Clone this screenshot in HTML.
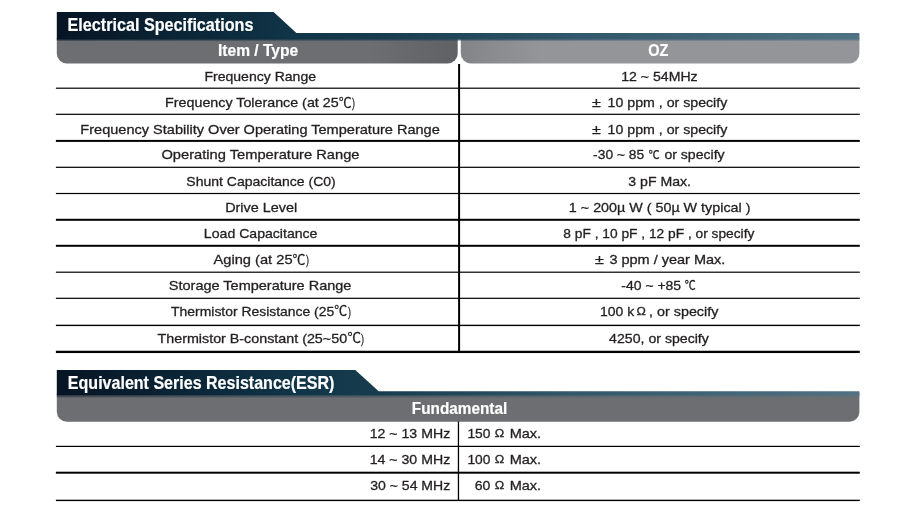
<!DOCTYPE html>
<html lang="en"><head><meta charset="utf-8"><title>Electrical Specifications</title>
<style>html,body{margin:0;padding:0;background:#fff}body{width:909px;height:513px;overflow:hidden}svg{display:block}text{font-family:'Liberation Sans', 'Noto Sans CJK JP', sans-serif;white-space:pre}</style>
</head><body>
<svg width="909" height="513" viewBox="0 0 909 513">
<defs>
<linearGradient id="tg" gradientUnits="userSpaceOnUse" x1="56" y1="0" x2="860" y2="0"><stop offset="0" stop-color="#061424"/><stop offset="0.2" stop-color="#0c2a3c"/><stop offset="0.3" stop-color="#113548"/><stop offset="0.4" stop-color="#163c4e"/><stop offset="0.65" stop-color="#33576b"/><stop offset="1" stop-color="#507282"/></linearGradient>
<linearGradient id="gl" gradientUnits="userSpaceOnUse" x1="370" y1="0" x2="458" y2="0"><stop offset="0" stop-color="#6d6e71"/><stop offset="1" stop-color="#606164"/></linearGradient>
<linearGradient id="gr" gradientUnits="userSpaceOnUse" x1="461" y1="0" x2="540" y2="0"><stop offset="0" stop-color="#828487"/><stop offset="1" stop-color="#939598"/></linearGradient>
<linearGradient id="gf" gradientUnits="userSpaceOnUse" x1="56" y1="0" x2="860" y2="0"><stop offset="0" stop-color="#737477"/><stop offset="1" stop-color="#67686b"/></linearGradient>
<linearGradient id="fd" x1="0" y1="0" x2="0" y2="1"><stop offset="0" stop-color="#fff" stop-opacity="0.75"/><stop offset="1" stop-color="#fff" stop-opacity="0"/></linearGradient>
<mask id="m2" maskUnits="userSpaceOnUse" x="0" y="390" width="909" height="12"><rect x="0" y="394.9" width="909" height="3.2" fill="url(#fd)"/></mask>
<mask id="m1" maskUnits="userSpaceOnUse" x="0" y="36" width="909" height="10"><rect x="0" y="39.7" width="909" height="1.6" fill="url(#fd)"/></mask>
</defs>
<rect width="909" height="513" fill="#fff"/>
<path d="M56.8 38H457.7V53.5A10 10 0 0 1 447.7 63.5H66.8A10 10 0 0 1 56.8 53.5Z" fill="url(#gl)"/>
<path d="M460.8 38H859.4V53.5A10 10 0 0 1 849.4 63.5H470.8A10 10 0 0 1 460.8 53.5Z" fill="url(#gr)"/>
<path d="M56.8 12.05H273.6L296.4 32.9H859.4V39.8H56.8Z" fill="url(#tg)"/>
<path d="M56.8 393H859.4V411.7A10 10 0 0 1 849.4 421.7H66.8A10 10 0 0 1 56.8 411.7Z" fill="#6d6e71"/>
<path d="M56.8 370.1H355.3L378.7 391.2H859.4V395.0H56.8Z" fill="url(#tg)"/>
<rect x="56.8" y="394.9" width="802.6" height="3.2" fill="url(#tg)" mask="url(#m2)"/>
<rect x="56.8" y="39.7" width="802.6" height="1.6" fill="url(#tg)" mask="url(#m1)"/>
<rect x="55.9" y="87.60" width="803.9" height="1.2" fill="#000"/>
<rect x="55.9" y="113.70" width="803.9" height="1.2" fill="#000"/>
<rect x="55.9" y="139.90" width="803.9" height="2.0" fill="#000"/>
<rect x="55.9" y="166.70" width="803.9" height="1.2" fill="#000"/>
<rect x="55.9" y="192.90" width="803.9" height="1.2" fill="#000"/>
<rect x="55.9" y="218.80" width="803.9" height="2.0" fill="#000"/>
<rect x="55.9" y="244.80" width="803.9" height="2.0" fill="#000"/>
<rect x="55.9" y="271.60" width="803.9" height="1.2" fill="#000"/>
<rect x="55.9" y="297.70" width="803.9" height="1.2" fill="#000"/>
<rect x="55.9" y="324.70" width="803.9" height="1.4" fill="#000"/>
<rect x="55.9" y="350.75" width="803.9" height="2.3" fill="#000"/>
<rect x="55.9" y="445.80" width="803.9" height="1.2" fill="#000"/>
<rect x="55.9" y="471.70" width="803.9" height="2.0" fill="#000"/>
<rect x="55.9" y="499.70" width="803.9" height="1.4" fill="#000"/>
<rect x="458.1" y="64" width="2.0" height="288" fill="#000"/>
<rect x="457.8" y="421.5" width="1.3" height="79" fill="#000"/>
<text font-weight="bold" fill="#fff" stroke="#fff" stroke-width="0.2"><tspan x="67.52" y="30.80" font-size="18.2" textLength="185.94" lengthAdjust="spacingAndGlyphs">Electrical Specifications</tspan></text>
<text font-weight="bold" fill="#fff" stroke="#fff" stroke-width="0.2"><tspan x="217.96" y="55.80" font-size="16.8" textLength="80.28" lengthAdjust="spacingAndGlyphs">Item / Type</tspan></text>
<text font-weight="bold" fill="#fff" stroke="#fff" stroke-width="0.2"><tspan x="648.20" y="55.80" font-size="16.8" textLength="20.22" lengthAdjust="spacingAndGlyphs">OZ</tspan></text>
<text font-weight="normal" fill="#231f20" stroke="#231f20" stroke-width="0.3"><tspan x="204.40" y="80.85" font-size="13.4" textLength="111.68" lengthAdjust="spacingAndGlyphs">Frequency Range</tspan></text>
<text font-weight="normal" fill="#231f20" stroke="#231f20" stroke-width="0.3"><tspan x="165.08" y="106.90" font-size="13.4" textLength="173.57" lengthAdjust="spacingAndGlyphs">Frequency Tolerance (at 25</tspan><tspan x="338.65" y="106.90" font-size="12.6" textLength="12.84" lengthAdjust="spacingAndGlyphs">℃</tspan><tspan x="352.10" y="106.90" font-size="13.4" textLength="3.01" lengthAdjust="spacingAndGlyphs">)</tspan></text>
<text font-weight="normal" fill="#231f20" stroke="#231f20" stroke-width="0.3"><tspan x="80.36" y="133.50" font-size="13.4" textLength="359.44" lengthAdjust="spacingAndGlyphs">Frequency Stability Over Operating Temperature Range</tspan></text>
<text font-weight="normal" fill="#231f20" stroke="#231f20" stroke-width="0.3"><tspan x="161.45" y="159.40" font-size="13.4" textLength="198.05" lengthAdjust="spacingAndGlyphs">Operating Temperature Range</tspan></text>
<text font-weight="normal" fill="#231f20" stroke="#231f20" stroke-width="0.3"><tspan x="186.31" y="185.50" font-size="13.4" textLength="149.50" lengthAdjust="spacingAndGlyphs">Shunt Capacitance (C0)</tspan></text>
<text font-weight="normal" fill="#231f20" stroke="#231f20" stroke-width="0.3"><tspan x="225.17" y="211.70" font-size="13.4" textLength="72.05" lengthAdjust="spacingAndGlyphs">Drive Level</tspan></text>
<text font-weight="normal" fill="#231f20" stroke="#231f20" stroke-width="0.3"><tspan x="203.89" y="237.80" font-size="13.4" textLength="113.58" lengthAdjust="spacingAndGlyphs">Load Capacitance</tspan></text>
<text font-weight="normal" fill="#231f20" stroke="#231f20" stroke-width="0.3"><tspan x="213.52" y="263.70" font-size="13.4" textLength="79.04" lengthAdjust="spacingAndGlyphs">Aging (at 25</tspan><tspan x="292.55" y="263.70" font-size="12.6" textLength="12.84" lengthAdjust="spacingAndGlyphs">℃</tspan><tspan x="306.00" y="263.70" font-size="13.4" textLength="3.01" lengthAdjust="spacingAndGlyphs">)</tspan></text>
<text font-weight="normal" fill="#231f20" stroke="#231f20" stroke-width="0.3"><tspan x="168.89" y="289.90" font-size="13.4" textLength="182.50" lengthAdjust="spacingAndGlyphs">Storage Temperature Range</tspan></text>
<text font-weight="normal" fill="#231f20" stroke="#231f20" stroke-width="0.3"><tspan x="171.14" y="316.20" font-size="13.4" textLength="163.10" lengthAdjust="spacingAndGlyphs">Thermistor Resistance (25</tspan><tspan x="334.24" y="314.50" font-size="12.6" textLength="12.95" lengthAdjust="spacingAndGlyphs">℃</tspan><tspan x="347.90" y="316.20" font-size="13.4" textLength="3.01" lengthAdjust="spacingAndGlyphs">)</tspan></text>
<text font-weight="normal" fill="#231f20" stroke="#231f20" stroke-width="0.3"><tspan x="157.53" y="342.50" font-size="13.4" textLength="189.58" lengthAdjust="spacingAndGlyphs">Thermistor B-constant (25~50</tspan><tspan x="347.42" y="342.00" font-size="12.6" textLength="13.50" lengthAdjust="spacingAndGlyphs">℃</tspan><tspan x="361.00" y="342.50" font-size="13.4" textLength="3.01" lengthAdjust="spacingAndGlyphs">)</tspan></text>
<text font-weight="normal" fill="#231f20" stroke="#231f20" stroke-width="0.3"><tspan x="621.18" y="80.85" font-size="13.4" textLength="76.48" lengthAdjust="spacingAndGlyphs">12 ~ 54MHz</tspan></text>
<text font-weight="normal" fill="#231f20" stroke="#231f20" stroke-width="0.3"><tspan x="591.94" y="106.90" font-size="13.4" textLength="8.81" lengthAdjust="spacingAndGlyphs">±</tspan> <tspan x="607.57" y="106.90" font-size="13.4" textLength="119.71" lengthAdjust="spacingAndGlyphs">10 ppm , or specify</tspan></text>
<text font-weight="normal" fill="#231f20" stroke="#231f20" stroke-width="0.3"><tspan x="591.94" y="133.50" font-size="13.4" textLength="8.81" lengthAdjust="spacingAndGlyphs">±</tspan> <tspan x="607.57" y="133.50" font-size="13.4" textLength="119.71" lengthAdjust="spacingAndGlyphs">10 ppm , or specify</tspan></text>
<text font-weight="normal" fill="#231f20" stroke="#231f20" stroke-width="0.3"><tspan x="593.14" y="159.40" font-size="13.4" textLength="51.09" lengthAdjust="spacingAndGlyphs">-30 ~ 85</tspan> <tspan x="648.64" y="158.80" font-size="11.6" textLength="10.87" lengthAdjust="spacingAndGlyphs">℃</tspan> <tspan x="664.46" y="159.40" font-size="13.4" textLength="60.12" lengthAdjust="spacingAndGlyphs">or specify</tspan></text>
<text font-weight="normal" fill="#231f20" stroke="#231f20" stroke-width="0.3"><tspan x="628.31" y="185.50" font-size="13.4" textLength="62.73" lengthAdjust="spacingAndGlyphs">3 pF Max.</tspan></text>
<text font-weight="normal" fill="#231f20" stroke="#231f20" stroke-width="0.3"><tspan x="568.86" y="211.70" font-size="13.4" textLength="181.58" lengthAdjust="spacingAndGlyphs">1 ~ 200µ W ( 50µ W typical )</tspan></text>
<text font-weight="normal" fill="#231f20" stroke="#231f20" stroke-width="0.3"><tspan x="563.35" y="237.80" font-size="13.4" textLength="191.02" lengthAdjust="spacingAndGlyphs">8 pF , 10 pF , 12 pF , or specify</tspan></text>
<text font-weight="normal" fill="#231f20" stroke="#231f20" stroke-width="0.3"><tspan x="595.03" y="263.70" font-size="13.4" textLength="8.92" lengthAdjust="spacingAndGlyphs">±</tspan> <tspan x="609.40" y="263.70" font-size="13.4" textLength="115.98" lengthAdjust="spacingAndGlyphs">3 ppm / year Max.</tspan></text>
<text font-weight="normal" fill="#231f20" stroke="#231f20" stroke-width="0.3"><tspan x="621.33" y="289.90" font-size="13.4" textLength="59.81" lengthAdjust="spacingAndGlyphs">-40 ~ +85</tspan> <tspan x="684.63" y="289.90" font-size="12.0" textLength="10.98" lengthAdjust="spacingAndGlyphs">℃</tspan></text>
<text font-weight="normal" fill="#231f20" stroke="#231f20" stroke-width="0.3"><tspan x="600.09" y="316.20" font-size="13.4" textLength="34.04" lengthAdjust="spacingAndGlyphs">100 k</tspan><tspan x="636.42" y="315.20" font-size="10.8" textLength="9.37" lengthAdjust="spacingAndGlyphs">Ω</tspan> <tspan x="649.06" y="316.20" font-size="13.4" textLength="69.32" lengthAdjust="spacingAndGlyphs">, or specify</tspan></text>
<text font-weight="normal" fill="#231f20" stroke="#231f20" stroke-width="0.3"><tspan x="609.13" y="342.50" font-size="13.4" textLength="99.75" lengthAdjust="spacingAndGlyphs">4250, or specify</tspan></text>
<text font-weight="bold" fill="#fff" stroke="#fff" stroke-width="0.2"><tspan x="67.83" y="389.30" font-size="18.2" textLength="266.57" lengthAdjust="spacingAndGlyphs">Equivalent Series Resistance(ESR)</tspan></text>
<text font-weight="bold" fill="#fff" stroke="#fff" stroke-width="0.2"><tspan x="411.87" y="413.50" font-size="16.8" textLength="95.41" lengthAdjust="spacingAndGlyphs">Fundamental</tspan></text>
<text font-weight="normal" fill="#231f20" stroke="#231f20" stroke-width="0.3"><tspan x="369.67" y="438.00" font-size="13.4" textLength="80.58" lengthAdjust="spacingAndGlyphs">12 ~ 13 MHz</tspan></text>
<text font-weight="normal" fill="#231f20" stroke="#231f20" stroke-width="0.3"><tspan x="369.67" y="464.10" font-size="13.4" textLength="80.58" lengthAdjust="spacingAndGlyphs">14 ~ 30 MHz</tspan></text>
<text font-weight="normal" fill="#231f20" stroke="#231f20" stroke-width="0.3"><tspan x="370.21" y="490.20" font-size="13.4" textLength="80.03" lengthAdjust="spacingAndGlyphs">30 ~ 54 MHz</tspan></text>
<text font-weight="normal" fill="#231f20" stroke="#231f20" stroke-width="0.3"><tspan x="467.40" y="438.00" font-size="13.4" textLength="22.99" lengthAdjust="spacingAndGlyphs">150</tspan> <tspan x="494.81" y="437.00" font-size="10.8" textLength="9.48" lengthAdjust="spacingAndGlyphs">Ω</tspan> <tspan x="509.66" y="438.00" font-size="13.4" textLength="31.52" lengthAdjust="spacingAndGlyphs">Max.</tspan></text>
<text font-weight="normal" fill="#231f20" stroke="#231f20" stroke-width="0.3"><tspan x="467.40" y="464.10" font-size="13.4" textLength="22.99" lengthAdjust="spacingAndGlyphs">100</tspan> <tspan x="494.81" y="463.10" font-size="10.8" textLength="9.48" lengthAdjust="spacingAndGlyphs">Ω</tspan> <tspan x="509.66" y="464.10" font-size="13.4" textLength="31.52" lengthAdjust="spacingAndGlyphs">Max.</tspan></text>
<text font-weight="normal" fill="#231f20" stroke="#231f20" stroke-width="0.3"><tspan x="474.73" y="490.20" font-size="13.4" textLength="15.67" lengthAdjust="spacingAndGlyphs">60</tspan> <tspan x="494.81" y="489.20" font-size="10.8" textLength="9.48" lengthAdjust="spacingAndGlyphs">Ω</tspan> <tspan x="509.66" y="490.20" font-size="13.4" textLength="31.52" lengthAdjust="spacingAndGlyphs">Max.</tspan></text>
</svg>
</body></html>
